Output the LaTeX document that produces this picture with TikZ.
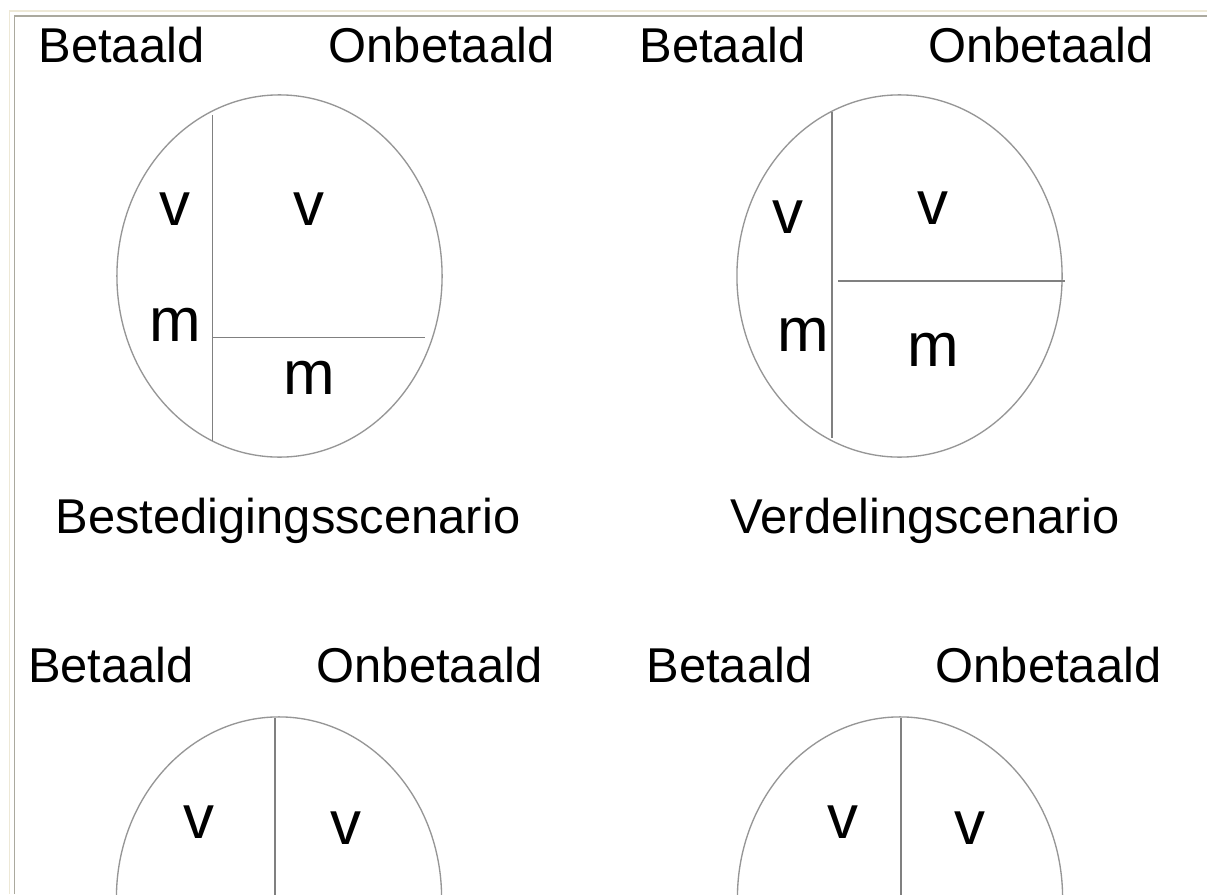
\documentclass[tikz,border=0pt]{standalone}
\usepackage{fontspec}
\setmainfont{Liberation Sans}
\definecolor{linegray}{HTML}{808080}
\definecolor{rimgray}{HTML}{969696}
\definecolor{frameouter}{HTML}{EDE8D6}
\definecolor{frameinner}{HTML}{ABA99E}
\begin{document}
\begin{tikzpicture}[x=0.01cm,y=-0.01cm,
  head/.style={font=\fontsize{13.9}{16}\selectfont, inner sep=0pt, anchor=base},
  part/.style={font=\fontsize{17.6}{20}\selectfont, inner sep=0pt, anchor=center},
  divline/.style={draw=linegray, line width=0.4pt},
  rim/.style={draw=rimgray, line width=0.38pt},
  frameA/.style={draw=frameouter, line width=0.5pt},
  frameB/.style={draw=frameinner, line width=0.5pt}]
\useasboundingbox (0,0) rectangle (1207,894);
\clip (0,0) rectangle (1207,894);
\fill[white] (0,0) rectangle (1207,894);
% window frame
\draw[frameA] (9.5,894) -- (9.5,11) -- (1207,11);
\draw[frameB] (14.5,894) -- (14.5,16) -- (1207,16);

% ---------- top left: Bestedigingsscenario ----------
\node[head] (tlB) at (121.5,63) {Betaald};
\node[head] (tlO) at (441.5,63) {Onbetaald};
\draw[rim] (279.5,276) ellipse [x radius=1.625cm, y radius=1.81cm];
\coordinate (tlvt) at (212.7,115);
\coordinate (tlvb) at (212.7,441);
\coordinate (tlhl) at (212.7,337.7);
\coordinate (tlhr) at (425,337.7);
\draw[divline] (tlvt) -- (tlvb);
\draw[divline] (tlhl) -- (tlhr);
\node[part] (tlv1) at (175,209) {v};
\node[part] (tlv2) at (309,209) {v};
\node[part] (tlm1) at (175,325) {m};
\node[part] (tlm2) at (309,378) {m};
\node[head] (tlS) at (288,533) {Bestedigingsscenario};

% ---------- top right: Verdelingscenario ----------
\node[head] (trB) at (722.5,63) {Betaald};
\node[head] (trO) at (1041,63) {Onbetaald};
\draw[rim] (899.5,276) ellipse [x radius=1.625cm, y radius=1.81cm];
\coordinate (trvt) at (832,112);
\coordinate (trvb) at (832,438);
\coordinate (trhl) at (838,281);
\coordinate (trhr) at (1065,281);
\draw[divline] (trvt) -- (trvb);
\draw[divline] (trhl) -- (trhr);
\node[part] (trv1) at (788,217) {v};
\node[part] (trv2) at (933,208) {v};
\node[part] (trm1) at (803,335) {m};
\node[part] (trm2) at (933,350) {m};
\node[head] (trS) at (925,533) {Verdelingscenario};

% ---------- bottom left ----------
\node[head] (blB) at (111,682) {Betaald};
\node[head] (blO) at (429.5,682) {Onbetaald};
\draw[rim] (279,898) ellipse [x radius=1.625cm, y radius=1.81cm];
\coordinate (blvt) at (275,718);
\coordinate (blvb) at (275,900);
\draw[divline] (blvt) -- (blvb);
\node[part] (blv1) at (199,822) {v};
\node[part] (blv2) at (346,828) {v};

% ---------- bottom right ----------
\node[head] (brB) at (729.5,682) {Betaald};
\node[head] (brO) at (1048.5,682) {Onbetaald};
\draw[rim] (900,898) ellipse [x radius=1.625cm, y radius=1.81cm];
\coordinate (brvt) at (901,718);
\coordinate (brvb) at (901,900);
\draw[divline] (brvt) -- (brvb);
\node[part] (brv1) at (843,822) {v};
\node[part] (brv2) at (970,828) {v};
\end{tikzpicture}
\end{document}
